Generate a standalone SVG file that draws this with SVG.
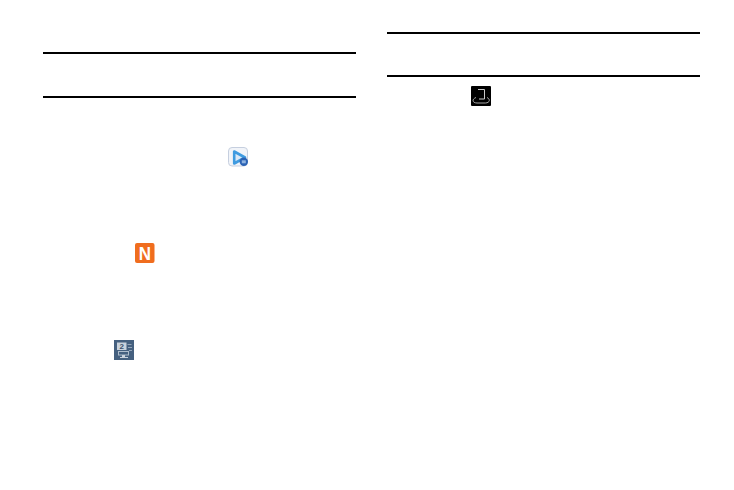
<svg xmlns="http://www.w3.org/2000/svg" width="734" height="490" viewBox="0 0 734 490">
<style>.rule{fill:#000}</style>
<rect width="734" height="490" fill="#fff"/>
<g id="rules">
<rect class="rule" x="43" y="52" width="313" height="2"/>
<rect class="rule" x="43" y="96" width="313" height="2"/>
<rect class="rule" x="387" y="32" width="313" height="2"/>
<rect class="rule" x="387" y="75" width="313" height="2"/>
</g>
<g id="icon-video">
<rect x="228.500" y="147.500" width="19" height="18.500" rx="3.500" fill="#f1f4f9" stroke="#c6cfdf"/>
<path d="M234.200 151.500V163.500L245 157.500Z" fill="#dbe9f7" stroke="#3f9be0" stroke-width="2.600" stroke-linejoin="round"/>
<circle cx="243.800" cy="161.800" r="4.200" fill="#2a62b4"/>
<rect x="241.800" y="160.300" width="4" height="3" fill="#8fb3e0"/>
</g>
<g id="icon-n">
<rect x="135" y="243" width="19.500" height="20" rx="2" fill="#f06d1e"/>
<text transform="translate(144.800 260) scale(1 1.12)" font-family="Liberation Sans, sans-serif" font-size="17" font-weight="700" fill="#fff" text-anchor="middle">N</text>
</g>
<g id="icon-monitor">
<rect x="114" y="340" width="20" height="20" fill="#45607f"/>
<rect x="117" y="342.500" width="9.500" height="7.500" fill="#c9d2dc"/>
<text x="121.700" y="349.300" font-family="Liberation Sans, sans-serif" font-size="8" font-weight="700" fill="#3b526d" text-anchor="middle">2</text>
<rect x="118.500" y="351.500" width="10" height="3.500" fill="none" stroke="#aebccb"/>
<rect x="122" y="355" width="3" height="2" fill="#c9d2dc"/>
<rect x="120" y="357" width="8" height="1" fill="#c9d2dc"/>
<path d="M127.500 344.500h4M128 347.500h4M129 350.500h3" stroke="#93a5b9" fill="none"/>
</g>
<g id="icon-music">
<rect x="471" y="86" width="20" height="20" rx="1" fill="#000"/>
<path d="M478 89.500h6.500V99H479" fill="none" stroke="#c8c8c8"/>
<path d="M476 97.500C472 99 471.800 102.800 477 103H485.500C490 102.800 490.500 99 487 97.500" fill="none" stroke="#a8a8a8"/>
</g>
</svg>
